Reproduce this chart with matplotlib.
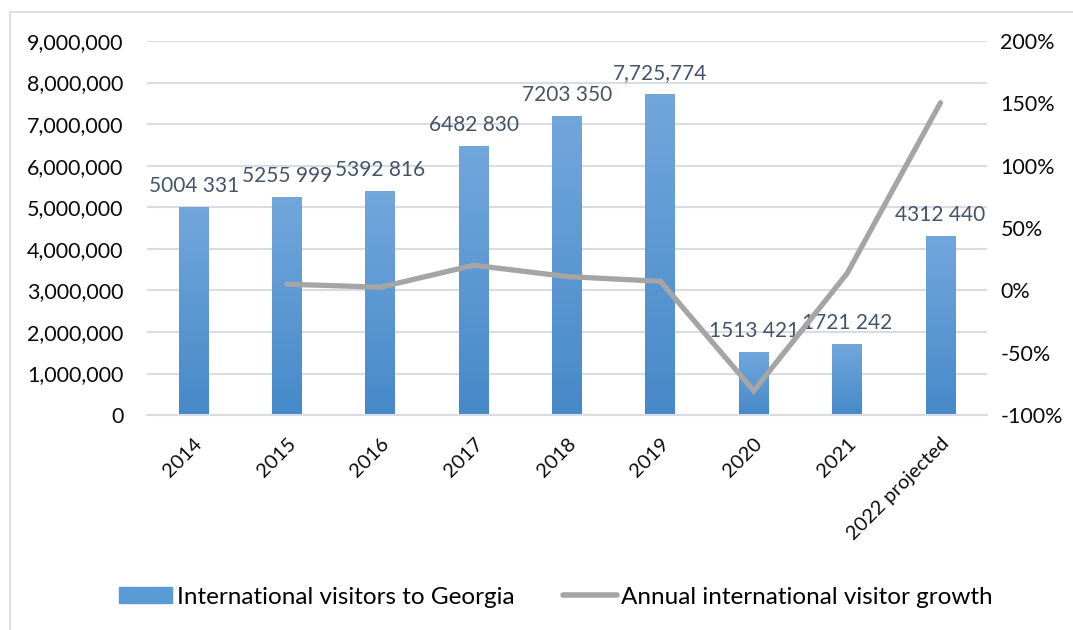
"""International visitors to Georgia: bars + annual growth line"""
import matplotlib.pyplot as plt
import numpy as np
from matplotlib.patches import Rectangle
from matplotlib.lines import Line2D
from matplotlib.ticker import FuncFormatter

plt.rcParams["font.family"] = ["Lato", "DejaVu Sans"]

years = ["2014", "2015", "2016", "2017", "2018", "2019", "2020", "2021", "2022 projected"]
visitors = [5004331, 5255999, 5392816, 6482830, 7203350, 7725774, 1513421, 1721242, 4312440]
bar_labels = ["5004 331", "5255 999", "5392 816", "6482 830", "7203 350", "7,725,774",
              "1513 421", "1721 242", "4312 440"]
growth_years = years[1:]
growth = [5.0, 2.6, 20.2, 11.1, 7.3, -80.4, 13.7, 150.5]

BAR_TOP = "#72a7dc"
BAR_BOTTOM = "#4689c9"
LINE_COLOR = "#a5a5a5"
GRID_COLOR = "#d9dde3"
LABEL_COLOR = "#44546a"
TEXT_COLOR = "#0b0b0b"

fig = plt.figure(figsize=(10.73, 6.30), dpi=100)
ax = fig.add_axes([0.137, 0.341, 0.783, 0.594])
ax2 = ax.twinx()

x = np.arange(len(years))
bars = ax.bar(x, visitors, width=0.32, color=BAR_BOTTOM, zorder=2)

# vertical gradient on each bar
grad = np.linspace(0, 1, 256).reshape(-1, 1)
cmap = plt.matplotlib.colors.LinearSegmentedColormap.from_list("g", [BAR_BOTTOM, BAR_TOP])
for b in bars:
    x0, w, h = b.get_x(), b.get_width(), b.get_height()
    im = ax.imshow(grad, extent=[x0, x0 + w, 0, h], origin="lower", aspect="auto",
                   cmap=cmap, zorder=2.1)
    im.set_clip_path(b)

for xi, v, lab in zip(x, visitors, bar_labels):
    ax.text(xi, v + 260000, lab, ha="center", va="bottom", fontsize=15, color=LABEL_COLOR)

ax.set_xlim(-0.5, len(years) - 0.5)
ax.set_ylim(0, 9000000)
ax.set_yticks(np.arange(0, 9000001, 1000000))
ax.yaxis.set_major_formatter(FuncFormatter(lambda v, p: f"{int(v):,}"))
ax.yaxis.grid(True, color=GRID_COLOR, linewidth=1.5, zorder=0)
ax.set_axisbelow(True)
ax.set_xticks(x)
ax.set_xticklabels(years, rotation=45, ha="right", rotation_mode="anchor", fontsize=14.5,
                   color=TEXT_COLOR)
ax.tick_params(axis="x", length=0, pad=14)
ax.tick_params(axis="y", length=0, labelsize=15.5, colors=TEXT_COLOR, pad=17)

ax2.plot(x[1:], growth, color=LINE_COLOR, linewidth=3.8, solid_capstyle="round",
         solid_joinstyle="miter", zorder=3)
ax2.set_ylim(-100, 200)
ax2.set_yticks(np.arange(-100, 201, 50))
ax2.yaxis.set_major_formatter(FuncFormatter(lambda v, p: f"{int(v)}%"))
ax2.tick_params(axis="y", length=0, labelsize=15.5, colors=TEXT_COLOR, pad=9.5)
ax.set_zorder(1)
ax2.set_zorder(2)
ax2.patch.set_visible(False)

for a in (ax, ax2):
    for s in a.spines.values():
        s.set_visible(False)
ax.spines["bottom"].set_visible(True)
ax.spines["bottom"].set_color(GRID_COLOR)
ax.spines["bottom"].set_linewidth(1.5)

# chart border
fig.patches.append(Rectangle((10 / 1073, -0.1), 1.2, 1.1 - 12 / 630, transform=fig.transFigure,
                             fill=False, edgecolor="#d9d9d9", linewidth=1.2))

handles = [Rectangle((0, 0), 1, 1, color="#5b9bd5"),
           Line2D([0], [0], color=LINE_COLOR, linewidth=4, solid_capstyle="round")]
fig.legend(handles, ["International visitors to Georgia", "Annual international visitor growth"],
           loc="center", bbox_to_anchor=(0.518, 1 - 597 / 630), ncol=2, frameon=False,
           fontsize=17.5, handlelength=2.2, handleheight=0.6, columnspacing=2,
           handletextpad=0.2)

fig.savefig("out.png", dpi=100)
